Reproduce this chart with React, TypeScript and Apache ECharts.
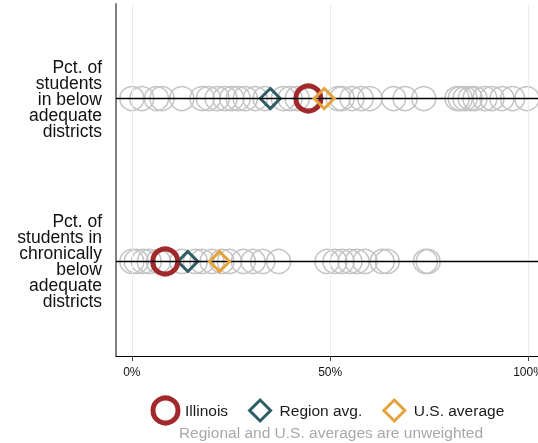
import React, { useEffect, useRef } from 'react';
import * as echarts from 'echarts';

const rowLabels = [
  'Pct. of\nstudents\nin below\nadequate\ndistricts',
  'Pct. of\nstudents in\nchronically\nbelow\nadequate\ndistricts',
];
const rowValues = [1, 2];

// Individual states / districts (gray hollow circles), percent
const belowAdequate = [
  0, 2.5, 6.2, 7.6, 12.6, 17.7, 19.3, 21.5, 23.5, 25.2, 26.8, 28.6, 31.1, 33.6,
  38.2, 39.9, 41.7, 44, 52, 53, 55.5, 57.8, 60, 66, 68.9, 73.6, 82, 82.8, 84,
  85.3, 86.5, 89, 90.8, 93.3, 96, 99.6,
];
const chronicallyBelow = [
  0, 1.1, 2.9, 4.4, 6.7, 8.5, 12.6, 16, 17.7, 20.2, 22.7, 24.6, 28.1, 30.6, 33,
  37, 49.2, 51.2, 53, 55, 56.8, 58.8, 63.1, 64.4, 74, 74.7,
];

const illinois = [44.5, 8.4];
const regionAvg = [34.9, 14.1];
const usAvg = [48.5, 22.1];

const xTicks = [0, 50, 100];
const seriesNames = ['Illinois', 'Region avg.', 'U.S. average'];
const subtitle = 'Regional and U.S. averages are unweighted';

const FONT = '"Liberation Sans", Arial, Helvetica, sans-serif';
const RED = '#a1282b';
const TEAL = '#2e5d67';
const ORANGE = '#e6a23a';
const GRAY = '#c4c4c4';
const DIAMOND_ICON = 'path://M0,0M25,25M12.5,2L23,12.5L12.5,23L2,12.5Z';

export default function App() {
  const ref = useRef<HTMLDivElement>(null);
  useEffect(() => {
    const chart = echarts.init(ref.current!, null, { renderer: 'svg' });
    const grayData = [
      ...belowAdequate.map((v) => [v, rowValues[0]]),
      ...chronicallyBelow.map((v) => [v, rowValues[1]]),
    ];
    const pairs = (arr: number[]) => arr.map((v, i) => [v, rowValues[i]]);
    const option: any = {
      animation: false,
      textStyle: { fontFamily: FONT },
      grid: { left: 116, right: 0, top: 4, bottom: 87, outerBoundsMode: 'none', containLabel: false },
      xAxis: {
        type: 'value',
        min: -4,
        max: 102.4,
        axisLine: { show: true, onZero: false, lineStyle: { color: '#000', width: 1 } },
        axisTick: { show: true, customValues: xTicks, length: 5, lineStyle: { color: '#444' } },
        axisLabel: {
          customValues: xTicks,
          formatter: (v: number) => v + '%',
          fontSize: 12,
          color: '#111',
          margin: 10,
          fontFamily: FONT,
        },
        splitLine: { show: false },
      },
      yAxis: {
        type: 'value',
        min: 0.42,
        max: 2.58,
        inverse: true,
        axisLine: { show: true, onZero: false, lineStyle: { color: '#808080', width: 2 } },
        axisTick: { show: false },
        splitLine: { show: false },
        axisLabel: {
          customValues: rowValues,
          formatter: (v: number) => rowLabels[Math.round(v) - 1],
          fontSize: 17.5,
          lineHeight: 16,
          color: '#111',
          margin: 14,
          align: 'right',
          fontFamily: FONT,
        },
      },
      legend: {
        left: 150.5,
        top: 395.5,
        padding: 0,
        itemWidth: 29,
        itemHeight: 25,
        itemGap: 18,
        selectedMode: false,
        textStyle: { fontSize: 15.5, color: '#1a1a1a', fontFamily: FONT },
        data: [
          {
            name: seriesNames[0],
            icon: 'circle',
            itemStyle: { color: 'rgba(0,0,0,0)', borderColor: RED, borderWidth: 5, opacity: 1 },
          },
          {
            name: seriesNames[1],
            icon: DIAMOND_ICON,
            itemStyle: { color: 'rgba(0,0,0,0)', borderColor: TEAL, borderWidth: 3, opacity: 1 },
          },
          {
            name: seriesNames[2],
            icon: DIAMOND_ICON,
            itemStyle: { color: 'rgba(0,0,0,0)', borderColor: ORANGE, borderWidth: 3, opacity: 1 },
          },
        ],
      },
      graphic: [
        {
          type: 'text',
          x: 331,
          y: 432,
          style: {
            text: subtitle,
            fill: '#a8a8a8',
            font: `15.5px ${FONT}`,
            align: 'center',
            verticalAlign: 'middle',
          },
        },
      ],
      series: [
        {
          type: 'scatter',
          name: '_grid',
          data: [],
          z: 1,
          silent: true,
          markLine: {
            silent: true,
            symbol: ['none', 'none'],
            label: { show: false },
            lineStyle: { color: '#ebebeb', width: 1, type: 'solid', opacity: 1 },
            emphasis: { disabled: true },
            data: xTicks.map((v) => ({ xAxis: v })),
          },
        },
        {
          type: 'scatter',
          name: '_states',
          data: grayData,
          symbol: 'circle',
          symbolSize: 24,
          z: 2,
          silent: true,
          itemStyle: { color: 'rgba(0,0,0,0)', borderColor: GRAY, borderWidth: 1.5, opacity: 1 },
          markLine: {
            silent: true,
            symbol: ['none', 'none'],
            label: { show: false },
            lineStyle: { color: '#000', width: 1.3, type: 'solid', opacity: 1 },
            emphasis: { disabled: true },
            data: rowValues.map((v) => ({ yAxis: v })),
          },
        },
        {
          type: 'scatter',
          name: seriesNames[1],
          data: pairs(regionAvg),
          symbol: 'diamond',
          symbolSize: 20,
          z: 3,
          itemStyle: { color: 'rgba(0,0,0,0)', borderColor: TEAL, borderWidth: 3, opacity: 1 },
        },
        {
          type: 'scatter',
          name: seriesNames[0],
          data: pairs(illinois),
          symbol: 'circle',
          symbolSize: 25,
          z: 4,
          itemStyle: { color: 'rgba(0,0,0,0)', borderColor: RED, borderWidth: 5, opacity: 1 },
        },
        {
          type: 'scatter',
          name: seriesNames[2],
          data: pairs(usAvg),
          symbol: 'diamond',
          symbolSize: 20,
          z: 5,
          itemStyle: { color: 'rgba(0,0,0,0)', borderColor: ORANGE, borderWidth: 3, opacity: 1 },
        },
      ],
    };
    chart.setOption(option);
    return () => chart.dispose();
  }, []);
  return (
    <div
      ref={ref}
      style={{ position: 'fixed', left: 0, top: 0, width: 538, height: 443 }}
    />
  );
}
